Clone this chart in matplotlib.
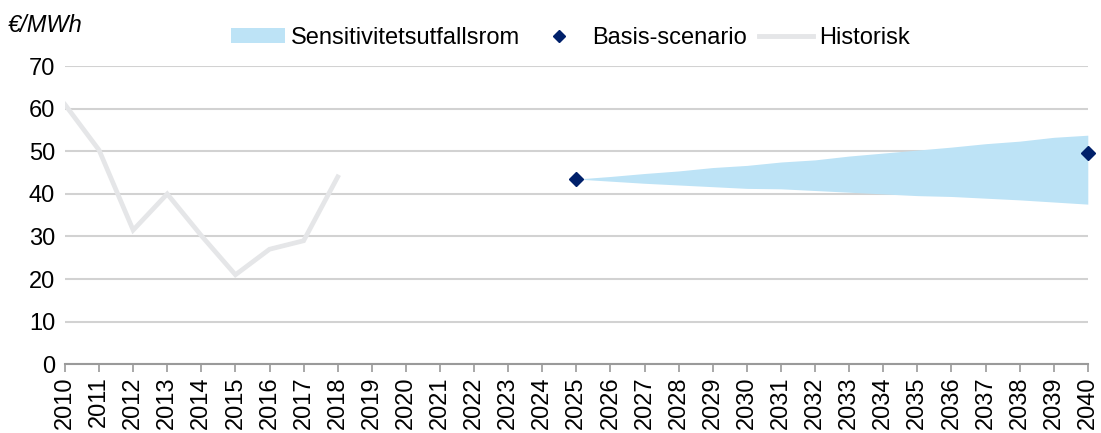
import matplotlib.pyplot as plt
from matplotlib.patches import Patch
from matplotlib.lines import Line2D

plt.rcParams['font.family'] = ['Liberation Sans', 'DejaVu Sans']

years = list(range(2010, 2041))

hist_years = list(range(2010, 2019))
hist_vals = [61, 50.3, 31.5, 40, 30.2, 21, 27, 29, 44]

band_years = list(range(2025, 2041))
band_upper = [43.5, 44.1, 44.8, 45.4, 46.2, 46.7, 47.5, 48.0, 48.9, 49.6, 50.3, 51.0, 51.8, 52.4, 53.3, 53.8]
band_lower = [43.5, 43.0, 42.5, 42.1, 41.7, 41.3, 41.2, 40.8, 40.4, 40.0, 39.6, 39.4, 39.0, 38.6, 38.1, 37.6]

base_years = [2025, 2040]
base_vals = [43.6, 49.7]

band_color = '#bde3f6'
base_color = '#00206a'
hist_color = '#e5e6e8'
grid_color = '#d2d2d2'
fs = 17

fig = plt.figure(figsize=(11.01, 4.33), dpi=100)
ax = fig.add_axes([0.059, 0.159, 0.929, 0.688])

ax.fill_between(band_years, band_lower, band_upper, color=band_color, lw=0, zorder=2)
ax.plot(hist_years, hist_vals, color=hist_color, lw=3.4, solid_joinstyle='miter', zorder=3)
ax.plot(base_years, base_vals, ls='none', marker='D', ms=7.5, color=base_color, zorder=4, clip_on=False)

ax.set_xlim(2010, 2040)
ax.set_ylim(0, 70)
ax.set_yticks(range(0, 71, 10))
ax.set_xticks(years)
ax.set_xticklabels([str(y) for y in years], rotation=90, fontsize=fs)
ax.tick_params(axis='y', length=0, labelsize=fs, pad=7)
ax.tick_params(axis='x', length=6, width=1.2, color='#9a9a9a', pad=3)

ax.grid(axis='y', color=grid_color, lw=1.5, zorder=0)
ax.set_axisbelow(True)
for s in ['top', 'right', 'left']:
    ax.spines[s].set_visible(False)
ax.spines['bottom'].set_color('#9a9a9a')
ax.spines['bottom'].set_linewidth(1.5)
ax.spines['bottom'].set_zorder(5)

fig.text(0.007, 0.94, '€/MWh', fontsize=fs, style='italic', ha='left', va='center')

handles = [
    Patch(facecolor=band_color, edgecolor='none'),
    Line2D([], [], ls='none', marker='D', ms=6, color=base_color),
    Line2D([], [], color=hist_color, lw=3.5),
]
labels = ['Sensitivitetsutfallsrom', 'Basis-scenario', 'Historisk']
fig.legend(handles, labels, loc='center', bbox_to_anchor=(0.518, 0.913), ncol=3,
           frameon=False, fontsize=fs, handlelength=2.3, handletextpad=0.25,
           columnspacing=0.5, handleheight=0.6)

fig.savefig('out.png', dpi=100)
